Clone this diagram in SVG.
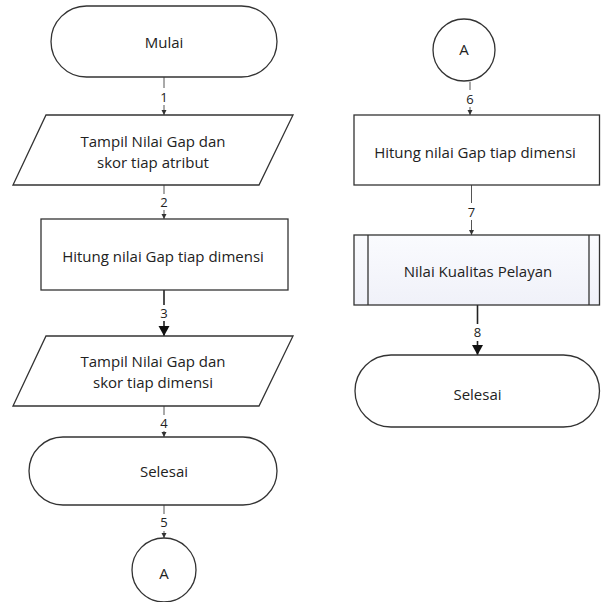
<svg xmlns="http://www.w3.org/2000/svg" width="601" height="602" viewBox="0 0 601 602">
<defs>
<style>
.s{fill:#fff;stroke:#333;stroke-width:1.3}
.t{font-family:"Open Sans","Noto Sans",sans-serif;font-size:15px;fill:#222;text-anchor:middle;dominant-baseline:central}
.n{font-family:"Open Sans","Noto Sans",sans-serif;font-size:13px;fill:#222;text-anchor:middle;dominant-baseline:central}
.thin{stroke:#555;stroke-width:1;fill:none}
.bold{stroke:#222;stroke-width:1.6;fill:none}
</style>
<linearGradient id="pp" x1="0" y1="0" x2="0" y2="1">
<stop offset="0" stop-color="#fafbfe"/>
<stop offset="1" stop-color="#f0f1f9"/>
</linearGradient>
<marker id="sm" markerWidth="6" markerHeight="6" refX="5" refY="3" orient="auto" markerUnits="userSpaceOnUse">
<path d="M0,0.5 L5,3 L0,5.5 Z" fill="#333"/>
</marker>
<marker id="bg" markerWidth="12" markerHeight="12" refX="10" refY="5.5" orient="auto" markerUnits="userSpaceOnUse">
<path d="M0,0 L10,5.5 L0,11 Z" fill="#111"/>
</marker>
</defs>
<g id="connectors">
<line class="thin" x1="164" y1="77" x2="164" y2="88"/><line class="thin" x1="164" y1="105" x2="164" y2="115" marker-end="url(#sm)"/>
<text class="n" x="164" y="97">1</text>
<line class="thin" x1="164" y1="185" x2="164" y2="194"/><line class="thin" x1="164" y1="210" x2="164" y2="219" marker-end="url(#sm)"/>
<text class="n" x="164" y="202">2</text>
<line class="bold" x1="164" y1="290" x2="164" y2="305"/><line class="bold" x1="164" y1="321" x2="164" y2="336" marker-end="url(#bg)"/>
<text class="n" x="164" y="313">3</text>
<line class="thin" x1="164" y1="406" x2="164" y2="415"/><line class="thin" x1="164" y1="431" x2="164" y2="437" marker-end="url(#sm)"/>
<text class="n" x="164" y="423">4</text>
<line class="thin" x1="164" y1="505" x2="164" y2="514"/><line class="thin" x1="164" y1="531" x2="164" y2="538" marker-end="url(#sm)"/>
<text class="n" x="164" y="522">5</text>
<line class="thin" x1="470" y1="82" x2="470" y2="90"/><line class="thin" x1="470" y1="107" x2="470" y2="115" marker-end="url(#sm)"/>
<text class="n" x="470" y="99">6</text>
<line class="thin" x1="471.5" y1="185" x2="471.5" y2="203"/><line class="thin" x1="471.5" y1="220" x2="471.5" y2="235" marker-end="url(#sm)"/>
<text class="n" x="471.5" y="212">7</text>
<line class="bold" x1="477.5" y1="305" x2="477.5" y2="324"/><line class="bold" x1="477.5" y1="341" x2="477.5" y2="355" marker-end="url(#bg)"/>
<text class="n" x="477.5" y="332">8</text>
</g>
<g id="mulai"><rect class="s" x="51" y="6" width="226" height="71" rx="35.5"/><text class="t" x="164" y="42">Mulai</text></g>
<g id="tampil1"><polygon class="s" points="46,115 293,115 259,185 13,185"/><text class="t" x="153" y="141">Tampil Nilai Gap dan</text><text class="t" x="153" y="162">skor tiap atribut</text></g>
<g id="hitung1"><rect class="s" x="41" y="219" width="247" height="71"/><text class="t" x="163" y="256">Hitung nilai Gap tiap dimensi</text></g>
<g id="tampil2"><polygon class="s" points="46,336 293,336 259,406 13,406"/><text class="t" x="153" y="361">Tampil Nilai Gap dan</text><text class="t" x="153" y="382">skor tiap dimensi</text></g>
<g id="selesai1"><rect class="s" x="29" y="437" width="248" height="68" rx="34"/><text class="t" x="164" y="471">Selesai</text></g>
<g id="a1"><circle class="s" cx="164" cy="570" r="32"/><text class="t" x="164" y="573">A</text></g>
<g id="a2"><circle class="s" cx="464" cy="50" r="31"/><text class="t" x="464" y="49">A</text></g>
<g id="hitung2"><rect class="s" x="354" y="115" width="245.5" height="70"/><text class="t" x="475" y="152">Hitung nilai Gap tiap dimensi</text></g>
<g id="nilai"><rect class="s" style="fill:url(#pp)" x="354" y="235" width="245.5" height="70"/><line class="s" x1="368" y1="235" x2="368" y2="305"/><line class="s" x1="589" y1="235" x2="589" y2="305"/><text class="t" x="478" y="271">Nilai Kualitas Pelayan</text></g>
<g id="selesai2"><rect class="s" x="355" y="355" width="244.5" height="72" rx="36"/><text class="t" x="477.5" y="394">Selesai</text></g>
</svg>
